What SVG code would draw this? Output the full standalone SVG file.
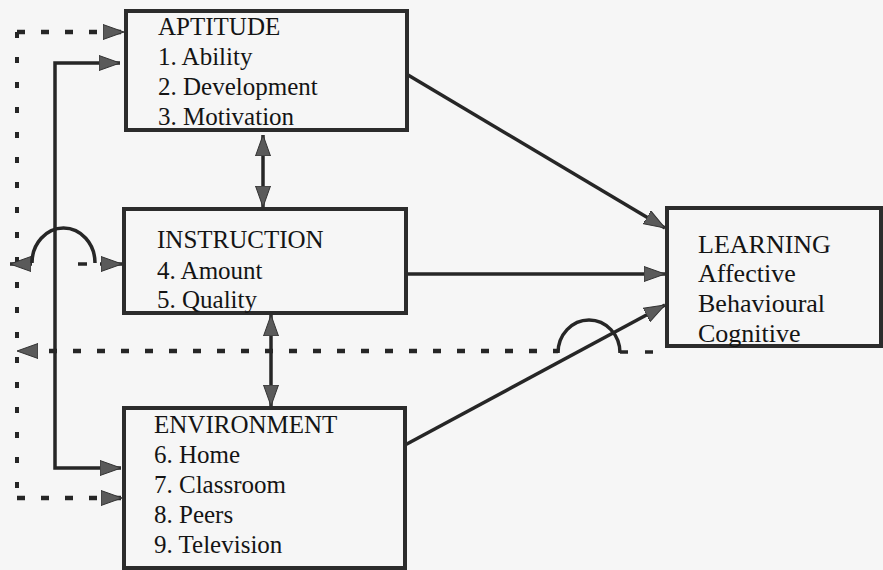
<svg xmlns="http://www.w3.org/2000/svg" width="883" height="570" viewBox="0 0 883 570">
  <style>
    .box { fill: none; stroke: #2c2c2c; stroke-width: 4; }
    .t { font-family: "Liberation Serif", "Times New Roman", serif; font-size: 25px; fill: #141414; }
    .tl { font-family: "Liberation Serif", "Times New Roman", serif; font-size: 26px; fill: #141414; }
    .solid { fill: none; stroke: #262626; stroke-width: 3.5; }
    .dash { fill: none; stroke: #262626; stroke-width: 4.5; stroke-dasharray: 8 16; }
    .dot { fill: none; stroke: #262626; stroke-width: 4; stroke-dasharray: 6 19; }
    .arc { fill: none; stroke: #262626; stroke-width: 3.5; }
  </style>
  <defs>
    <marker id="ah" markerUnits="userSpaceOnUse" markerWidth="24" markerHeight="18" refX="21" refY="8" orient="auto-start-reverse" viewBox="0 0 24 18">
      <path d="M0,0.5 L21,8 L0,15.5 Z" fill="#5a5a5a" stroke="#333" stroke-width="1"/>
    </marker>
  </defs>
  <rect x="0" y="0" width="883" height="570" fill="#f6f6f6"/>

  <g id="connectors">
    <!-- left dotted feedback loop -->
    <path class="dot" d="M17,32 V498"/>
    <path class="dash" d="M17,32 H124" marker-end="url(#ah)"/>
    <path class="dash" d="M17,498 H122" marker-end="url(#ah)"/>
    <!-- solid loop -->
    <path class="solid" d="M120,63 H55 V468 H121" marker-start="url(#ah)" marker-end="url(#ah)"/>
    <!-- vertical double arrows -->
    <path class="solid" d="M263,135 V207" marker-start="url(#ah)" marker-end="url(#ah)"/>
    <path class="solid" d="M271,315 V406" marker-start="url(#ah)" marker-end="url(#ah)"/>
    <!-- to LEARNING -->
    <path class="solid" d="M408,75 L665,228" marker-end="url(#ah)"/>
    <path class="solid" d="M406,274 H665" marker-end="url(#ah)"/>
    <path class="solid" d="M405,445 L665,305" marker-end="url(#ah)"/>
    <!-- upper dashed with hop over solid line -->
    <path class="solid" d="M32,264 H10" marker-end="url(#ah)"/>
    <path class="arc" d="M32,263 A31.5,35 0 0 1 95,263"/>
    <path class="solid" d="M78,264 H87" stroke-width="4.5"/>
    <path class="solid" d="M100,264 H122" marker-end="url(#ah)"/>
    <!-- lower dashed from LEARNING back to left -->
    <path class="dash" d="M558,351 H17" stroke-dashoffset="3" marker-end="url(#ah)"/>
    <path class="arc" d="M558,353 A31,33 0 0 1 620,353"/>
    <path class="solid" d="M620,352 H628" stroke-width="4.5"/>
    <path class="solid" d="M645,352 H653" stroke-width="4.5"/>
  </g>

  <g id="aptitude">
    <rect class="box" x="126" y="11" width="281" height="119"/>
    <text class="t" x="158" y="35">APTITUDE</text>
    <text class="t" x="158" y="65">1. Ability</text>
    <text class="t" x="158" y="95">2. Development</text>
    <text class="t" x="158" y="125">3. Motivation</text>
  </g>

  <g id="instruction">
    <rect class="box" x="124" y="209" width="282" height="104"/>
    <text class="t" x="157" y="248">INSTRUCTION</text>
    <text class="t" x="157" y="279">4. Amount</text>
    <text class="t" x="157" y="308">5. Quality</text>
  </g>

  <g id="environment">
    <rect class="box" x="124" y="408" width="281" height="160"/>
    <text class="t" x="154" y="433">ENVIRONMENT</text>
    <text class="t" x="154" y="463">6. Home</text>
    <text class="t" x="154" y="493">7. Classroom</text>
    <text class="t" x="154" y="523">8. Peers</text>
    <text class="t" x="154" y="553">9. Television</text>
  </g>

  <g id="learning">
    <rect class="box" x="667" y="208" width="214" height="138"/>
    <text class="tl" x="698" y="253">LEARNING</text>
    <text class="tl" x="698" y="282">Affective</text>
    <text class="tl" x="698" y="312">Behavioural</text>
    <text class="tl" x="698" y="342">Cognitive</text>
  </g>
</svg>
